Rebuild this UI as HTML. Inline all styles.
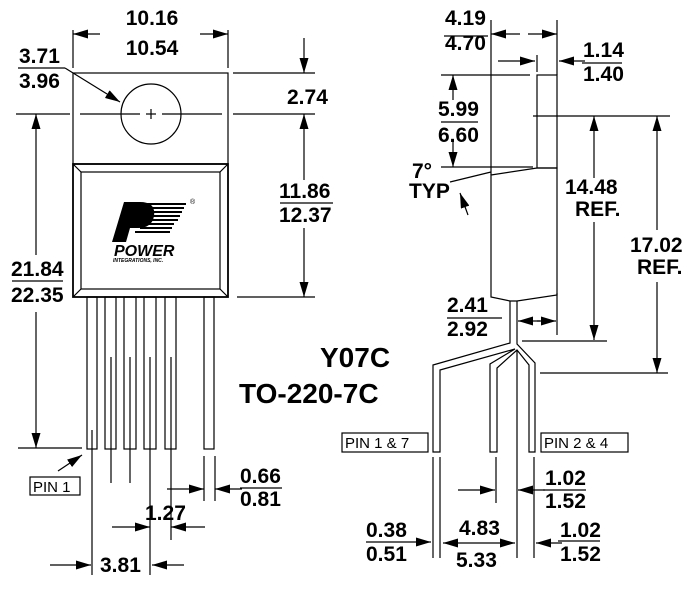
<!DOCTYPE html>
<html><head><meta charset="utf-8"><style>
html,body{margin:0;padding:0;background:#fff;}
svg{display:block;}
text{font-family:"Liberation Sans",Arial,sans-serif;font-weight:bold;font-size:21px;fill:#000;}
.t{font-weight:normal;font-size:15px;}
</style></head><body>
<svg width="700" height="595" viewBox="0 0 700 595" xmlns="http://www.w3.org/2000/svg">
<defs>
<marker id="a" viewBox="0 0 15 9" refX="15" refY="4.5" markerWidth="15" markerHeight="9" markerUnits="userSpaceOnUse" orient="auto"><path d="M0,0L15,4.5L0,9z" fill="#000"/></marker>
</defs>
<g stroke="#000" stroke-width="1.2" fill="none">
<rect x="73" y="73" width="155" height="91"/>
<circle cx="151" cy="114" r="30"/>
<line x1="146" y1="114" x2="156" y2="114"/><line x1="151" y1="109" x2="151" y2="119"/>
<line x1="16" y1="114" x2="70" y2="114"/><line x1="233" y1="114" x2="315" y2="114"/>
<line x1="80" y1="114" x2="140" y2="114"/><line x1="162" y1="114" x2="222" y2="114"/>
<rect x="73" y="164" width="155" height="133" stroke-width="1.8"/>
<rect x="81" y="172" width="139" height="117"/>
<line x1="73" y1="164" x2="81" y2="172"/><line x1="228" y1="164" x2="220" y2="172"/>
<line x1="73" y1="297" x2="81" y2="289"/><line x1="228" y1="297" x2="220" y2="289"/>
<rect x="87" y="297" width="10" height="152"/>
<rect x="105" y="297" width="11" height="152"/>
<rect x="124" y="297" width="12" height="152"/>
<rect x="144" y="297" width="12" height="152"/>
<rect x="165" y="297" width="11" height="152"/>
<rect x="204" y="297" width="10" height="152"/>
<line x1="92" y1="430" x2="92" y2="575"/>
<line x1="111" y1="357" x2="111" y2="483"/>
<line x1="130" y1="357" x2="130" y2="483"/>
<line x1="150" y1="357" x2="150" y2="575"/>
<line x1="171" y1="357" x2="171" y2="540"/>
<line x1="204" y1="456" x2="204" y2="501"/><line x1="215" y1="456" x2="215" y2="501"/>
<line x1="73" y1="30" x2="73" y2="68"/><line x1="228" y1="30" x2="228" y2="68"/>
<line x1="100" y1="34" x2="73" y2="34" marker-end="url(#a)"/><line x1="200" y1="34" x2="228" y2="34" marker-end="url(#a)"/>
<line x1="18" y1="68" x2="65" y2="68"/><line x1="65" y1="68" x2="120" y2="102" marker-end="url(#a)"/>
<line x1="233" y1="73" x2="315" y2="73"/><line x1="237" y1="297" x2="315" y2="297"/>
<line x1="304" y1="38" x2="304" y2="73" marker-end="url(#a)"/>
<line x1="304" y1="180" x2="304" y2="114" marker-end="url(#a)"/>
<line x1="304" y1="228" x2="304" y2="297" marker-end="url(#a)"/>
<line x1="280" y1="203" x2="333" y2="203"/>
<line x1="36" y1="255" x2="36" y2="114" marker-end="url(#a)"/>
<line x1="36" y1="312" x2="36" y2="448" marker-end="url(#a)"/>
<line x1="12" y1="281" x2="63" y2="281"/>
<line x1="18" y1="448" x2="82" y2="448"/>
<line x1="58" y1="471" x2="82" y2="455" marker-end="url(#a)"/>
<rect x="30" y="477" width="50" height="18"/>
<line x1="167" y1="489" x2="204" y2="489" marker-end="url(#a)"/>
<line x1="242" y1="489" x2="215" y2="489" marker-end="url(#a)"/>
<line x1="240" y1="488" x2="282" y2="488"/>
<line x1="112" y1="527" x2="150" y2="527" marker-end="url(#a)"/>
<line x1="205" y1="527" x2="171" y2="527" marker-end="url(#a)"/>
<line x1="50" y1="565" x2="91" y2="565" marker-end="url(#a)"/>
<line x1="184" y1="565" x2="152" y2="565" marker-end="url(#a)"/>
<rect x="537" y="75" width="20" height="93"/>
<path d="M491,175 L537,168 L557,168 L557,295 L517,301 L510,301 L491,297 Z"/>
<path d="M510,301 L510,343 L433,365 L433,452 L440,452 L440,370 L515,349 L490,364 L490,452 L497,452 L497,368 L517,350 L529,365 L529,452 L535,452 L535,363 L517,344 L517,301"/>
<line x1="517" y1="350" x2="517" y2="558"/>
<line x1="491" y1="20" x2="491" y2="175"/><line x1="557" y1="20" x2="557" y2="75"/>
<line x1="520" y1="34" x2="491" y2="34" marker-end="url(#a)"/><line x1="528" y1="34" x2="557" y2="34" marker-end="url(#a)"/>
<line x1="444" y1="36" x2="488" y2="36"/>
<line x1="537" y1="55" x2="537" y2="72"/>
<line x1="498" y1="61" x2="535" y2="61" marker-end="url(#a)"/>
<line x1="585" y1="61" x2="559" y2="61" marker-end="url(#a)"/>
<line x1="582" y1="63" x2="622" y2="63"/>
<line x1="441" y1="75" x2="530" y2="75"/><line x1="441" y1="167" x2="533" y2="167"/>
<line x1="453" y1="100" x2="453" y2="75" marker-end="url(#a)"/>
<line x1="453" y1="140" x2="453" y2="167" marker-end="url(#a)"/>
<line x1="441" y1="122" x2="478" y2="122"/>
<line x1="450" y1="182" x2="491" y2="172"/>
<line x1="468" y1="215" x2="460" y2="193" marker-end="url(#a)"/>
<line x1="533" y1="116" x2="670" y2="116"/>
<line x1="594" y1="178" x2="594" y2="116" marker-end="url(#a)"/>
<line x1="594" y1="222" x2="594" y2="340" marker-end="url(#a)"/>
<line x1="522" y1="341" x2="607" y2="341"/>
<line x1="657" y1="230" x2="657" y2="116" marker-end="url(#a)"/>
<line x1="657" y1="282" x2="657" y2="373" marker-end="url(#a)"/>
<line x1="540" y1="373" x2="668" y2="373"/>
<line x1="447" y1="318" x2="502" y2="318"/>
<line x1="557" y1="293" x2="557" y2="335"/>
<line x1="540" y1="321" x2="518" y2="321" marker-end="url(#a)"/>
<line x1="537" y1="321" x2="556" y2="321" marker-end="url(#a)"/>
<rect x="342" y="433" width="86" height="19"/>
<rect x="541" y="433" width="87" height="19"/>
<line x1="433" y1="457" x2="433" y2="558"/><line x1="440" y1="457" x2="440" y2="558"/>
<line x1="496" y1="457" x2="496" y2="503"/><line x1="534" y1="457" x2="534" y2="558"/>
<line x1="458" y1="490" x2="495" y2="490" marker-end="url(#a)"/>
<line x1="545" y1="490" x2="518" y2="490" marker-end="url(#a)"/>
<line x1="543" y1="490" x2="586" y2="490"/>
<line x1="366" y1="542" x2="405" y2="542"/>
<line x1="405" y1="542" x2="431" y2="542" marker-end="url(#a)"/>
<line x1="480" y1="543" x2="443" y2="543" marker-end="url(#a)"/>
<line x1="480" y1="543" x2="515" y2="543" marker-end="url(#a)"/>
<line x1="562" y1="543" x2="536" y2="543" marker-end="url(#a)"/>
<line x1="558" y1="541" x2="600" y2="541"/>
</g>
<g fill="#000">
<path d="M124,202 L140,202 Q156,202 154,216 Q152,228 138,228 L130,228 L126,242 L112,242 Z"/>
<rect x="140" y="203" width="46" height="2"/><rect x="142" y="207" width="42" height="2"/><rect x="146" y="211" width="36" height="2"/><rect x="148" y="215" width="32" height="2"/><rect x="148" y="219" width="30" height="2"/><rect x="146" y="223" width="28" height="2"/><rect x="140" y="227" width="32" height="2"/><rect x="135" y="231" width="35" height="2"/>
</g>
<text x="114" y="256" style="font-size:16px;font-style:italic">POWER</text>
<text x="113" y="262" style="font-size:5px;font-style:italic">INTEGRATIONS, INC.</text>
<text x="190" y="204" style="font-size:7px;font-weight:normal">®</text>
<text x="152" y="25" text-anchor="middle">10.16</text>
<text x="152" y="55" text-anchor="middle">10.54</text>
<text x="19" y="63">3.71</text><text x="19" y="88">3.96</text>
<text x="287" y="104">2.74</text>
<text x="279" y="198">11.86</text><text x="279" y="222">12.37</text>
<text x="11" y="276">21.84</text><text x="11" y="302">22.35</text>
<text class="t" x="33" y="492">PIN 1</text>
<text x="240" y="483">0.66</text><text x="240" y="506">0.81</text>
<text x="145" y="520">1.27</text>
<text x="100" y="572">3.81</text>
<text x="320" y="367" style="font-size:28px">Y07C</text>
<text x="239" y="403" style="font-size:28px">TO-220-7C</text>
<text x="445" y="25">4.19</text><text x="445" y="50">4.70</text>
<text x="583" y="57">1.14</text><text x="583" y="81">1.40</text>
<text x="438" y="116">5.99</text><text x="438" y="142">6.60</text>
<text x="412" y="178">7°</text><text x="409" y="198">TYP</text>
<text x="565" y="194">14.48</text><text x="575" y="216">REF.</text>
<text x="630" y="252">17.02</text><text x="637" y="274">REF.</text>
<text x="447" y="312">2.41</text><text x="447" y="336">2.92</text>
<text class="t" x="345" y="448">PIN 1 &amp; 7</text>
<text class="t" x="544" y="448">PIN 2 &amp; 4</text>
<text x="545" y="485">1.02</text><text x="545" y="508">1.52</text>
<text x="366" y="537">0.38</text><text x="366" y="561">0.51</text>
<text x="459" y="535">4.83</text><text x="456" y="567">5.33</text>
<text x="560" y="537">1.02</text><text x="560" y="561">1.52</text>
</svg>
</body></html>
